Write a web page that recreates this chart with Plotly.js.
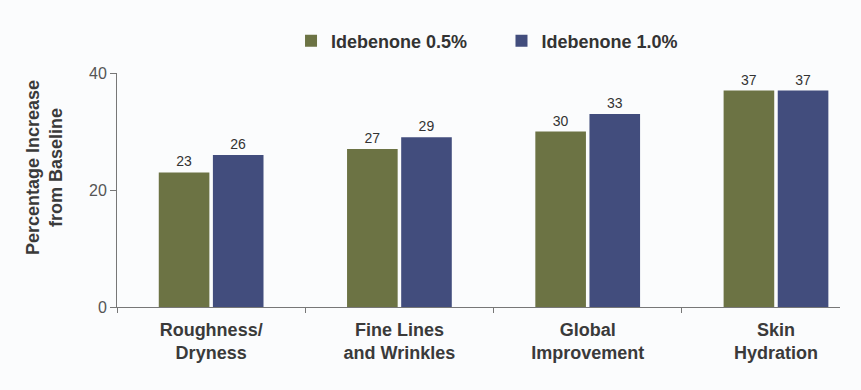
<!DOCTYPE html>
<html>
<head>
<meta charset="utf-8">
<script src="https://cdn.plot.ly/plotly-3.0.1.min.js"></script>
<style>
html,body{margin:0;padding:0;background:#fbfcfd;}
#chart{width:861px;height:390px;}
</style>
</head>
<body>
<div id="chart"></div>
<script>
const categories = ["Roughness/<br>Dryness", "Fine Lines<br>and Wrinkles", "Global<br>Improvement", "Skin<br>Hydration"];
const seriesNames = ["Idebenone 0.5%", "Idebenone 1.0%"];
const idebenone05 = [23, 27, 30, 37];
const idebenone10 = [26, 29, 33, 37];
const yTicks = [0, 20, 40];
const yTitle = "Percentage Increase<br>from Baseline";

const colors = ["#6c7344", "#424d7d"];
const valueSets = [idebenone05, idebenone10];
const legendIds = ["legend", "legend2"];

const traces = valueSets.map((vals, i) => ({
  type: "bar",
  name: seriesNames[i],
  legend: legendIds[i],
  x: categories,
  y: vals,
  marker: {color: colors[i]},
  text: vals.map(String),
  textposition: "outside",
  cliponaxis: false,
  textfont: {family: "Liberation Sans, Arial, sans-serif", size: 14, color: "#333"}
}));

const legendBase = {
  orientation: "h",
  xanchor: "left",
  y: 1.137, yanchor: "middle",
  font: {size: 18, weight: "bold", color: "#333"},
  itemwidth: 30,
  bgcolor: "rgba(0,0,0,0)"
};

const layout = {
  width: 861,
  height: 390,
  paper_bgcolor: "#fbfcfd",
  plot_bgcolor: "#fbfcfd",
  margin: {l: 117, r: 21, t: 73, b: 83},
  barmode: "group",
  bargap: 0.425,
  bargroupgap: 0.065,
  font: {family: "Liberation Sans, Arial, sans-serif", color: "#333"},
  showlegend: true,
  legend: Object.assign({}, legendBase, {x: 0.2407}),
  legend2: Object.assign({}, legendBase, {x: 0.5318}),
  xaxis: {
    range: [-0.5, 3.34],
    showline: true,
    linecolor: "#777",
    linewidth: 1,
    ticks: "outside",
    tickson: "boundaries",
    ticklen: 5,
    tickcolor: "#777",
    ticklabelstandoff: 6,
    tickfont: {size: 18, weight: "bold", color: "#3a3a3a"},
    showgrid: false,
    zeroline: false
  },
  yaxis: {
    range: [0, 40],
    tickvals: yTicks,
    ticktext: yTicks.map(String),
    showline: true,
    linecolor: "#777",
    linewidth: 1,
    ticks: "outside",
    ticklen: 6,
    tickcolor: "#777",
    tickfont: {size: 16, color: "#555"},
    showgrid: false,
    zeroline: false
  },
  annotations: [{
    text: yTitle,
    xref: "paper", yref: "paper",
    x: -0.101, y: 0.598,
    xanchor: "center", yanchor: "middle",
    textangle: -90,
    showarrow: false,
    font: {size: 18, weight: "bold", color: "#3a3a3a"}
  }]
};

Plotly.newPlot("chart", traces, layout, {displayModeBar: false, staticPlot: true});
</script>
</body>
</html>
